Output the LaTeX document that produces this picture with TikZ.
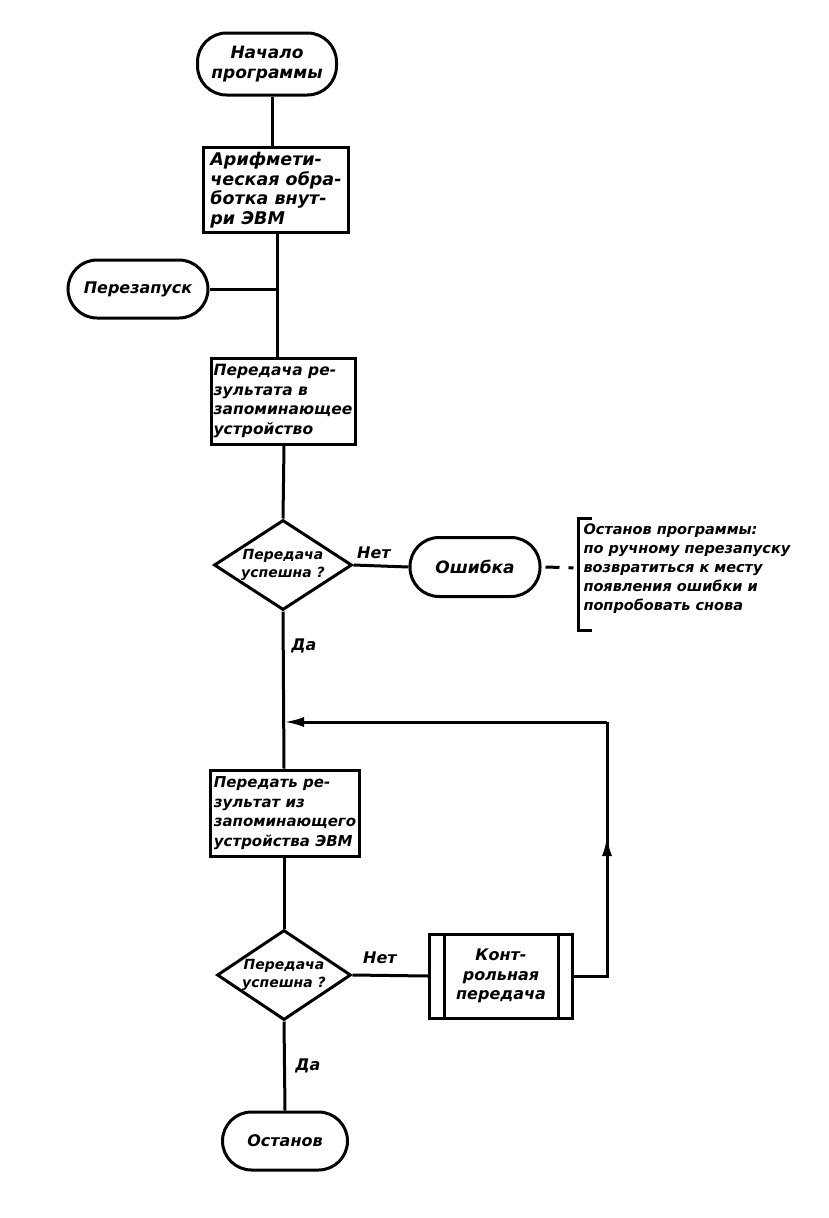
\documentclass[tikz,border=0pt]{standalone}
\usepackage{fontspec}
\newfontfamily\hand{DejaVu Sans}
\usetikzlibrary{shapes.geometric,arrows.meta}
\begin{document}
\begin{tikzpicture}[x=1pt,y=-1pt,
  line width=3pt,
  every node/.style={font=\hand\bfseries\itshape\fontsize{16}{19.5}\selectfont},
  term/.style={draw,rounded corners=29pt,inner sep=0pt,align=center},
  procbox/.style={draw,inner sep=2pt,align=left,anchor=center},
  decis/.style={draw,diamond,inner sep=0pt},
  dtext/.style={align=center,font=\hand\bfseries\itshape\fontsize{14}{18}\selectfont},
  lbl/.style={inner sep=0pt},
  arr/.style={-{Latex[length=20pt,width=10pt]}}
]
\useasboundingbox (0,0) rectangle (828,1218);
% columns of the main vertical line
\coordinate (xa) at (272,0);
\coordinate (xb) at (277,0);
\coordinate (xc) at (284,0);
% nodes
\node[term,minimum width=139pt,minimum height=62pt,font=\hand\bfseries\itshape\fontsize{17}{20}\selectfont] (start) at (267,64) {Начало\\программы};
\node[procbox,minimum width=145pt,minimum height=85pt,font=\hand\bfseries\itshape\fontsize{17.5}{19.5}\selectfont] (b1) at (276,190) {Арифмети-\\ческая обра-\\ботка внут-\\ри ЭВМ};
\node[term,minimum width=140pt,minimum height=58pt] (restart) at (138,289) {Перезапуск};
\node[procbox,minimum width=144pt,minimum height=86pt,font=\hand\bfseries\itshape\fontsize{15.5}{19.5}\selectfont] (b2) at (283,401) {Передача ре-\\зультата в\\запоминающее\\устройство};
\node[decis,minimum width=138pt,minimum height=90pt] (d1) at (283,565) {};
\node[dtext] (d1t) at (d1.center) {Передача\\успешна ?};
\node[term,minimum width=130pt,minimum height=59pt,font=\hand\bfseries\itshape\fontsize{17}{20}\selectfont] (err) at (475,567) {Ошибка};
\coordinate (br) at (578,568);
\node[lbl,anchor=west,align=left,font=\hand\bfseries\itshape\fontsize{14.5}{19}\selectfont] (note) at (582,569) {Останов программы:\\по ручному перезапуску\\возвратиться к месту\\появления ошибки и\\попробовать снова};
\node[procbox,minimum width=149pt,minimum height=86pt,font=\hand\bfseries\itshape\fontsize{15}{19.5}\selectfont] (b3) at (285,813) {Передать ре-\\зультат из\\запоминающего\\устройства ЭВМ};
\node[decis,minimum width=134pt,minimum height=90pt] (d2) at (284,975) {};
\node[dtext] (d2t) at (d2.center) {Передача\\успешна ?};
\node[draw,minimum width=143pt,minimum height=84pt,align=center,inner sep=0pt] (ctl) at (501,976) {Конт-\\рольная\\передача};
\node[term,minimum width=125pt,minimum height=58pt] (stop) at (285,1141) {Останов};
\coordinate (m1) at (284,722);
\coordinate (r1) at (607,976);
\coordinate (r2) at (607,722);
\coordinate (rmid) at (607,836);
\coordinate (j1) at (277,289);
% labels
\node[lbl] (no1) at (374,553) {Нет};
\node[lbl] (yes1) at (304,646) {Да};
\node[lbl] (no2) at (380,958) {Нет};
\node[lbl] (yes2) at (308,1066) {Да};
% inner bars of predefined process
\draw ([xshift=16pt]ctl.north west) -- ([xshift=16pt]ctl.south west);
\draw ([xshift=-16pt]ctl.north east) -- ([xshift=-16pt]ctl.south east);
% connectors
\draw (start.south -| xa) -- (b1.north -| xa);
\draw (b1.south -| xb) -- (b2.north -| xb);
\draw (restart.east) -- (j1);
\draw (b2.south -| xc) -- (d1.north);
\draw (d1.east) -- (err.west);
\draw[dash pattern=on 14pt off 9pt on 5pt off 30pt] ([xshift=4pt]err.east) -- (br);
\draw ([xshift=14pt]br |- 0,518) -- (br |- 0,518) -- (br |- 0,630) -- ([xshift=14pt]br |- 0,630);
\draw (d1.south) -- (b3.north -| xc);
\draw (b3.south -| xc) -- (d2.north);
\draw (d2.east) -- (ctl.west);
\draw (ctl.east) -- (r1) -- (r2);
\draw[arr] (r1) -- (rmid);
\draw[arr] (r2) -- (m1);
\draw (d2.south) -- (stop.north);
\end{tikzpicture}
\end{document}
